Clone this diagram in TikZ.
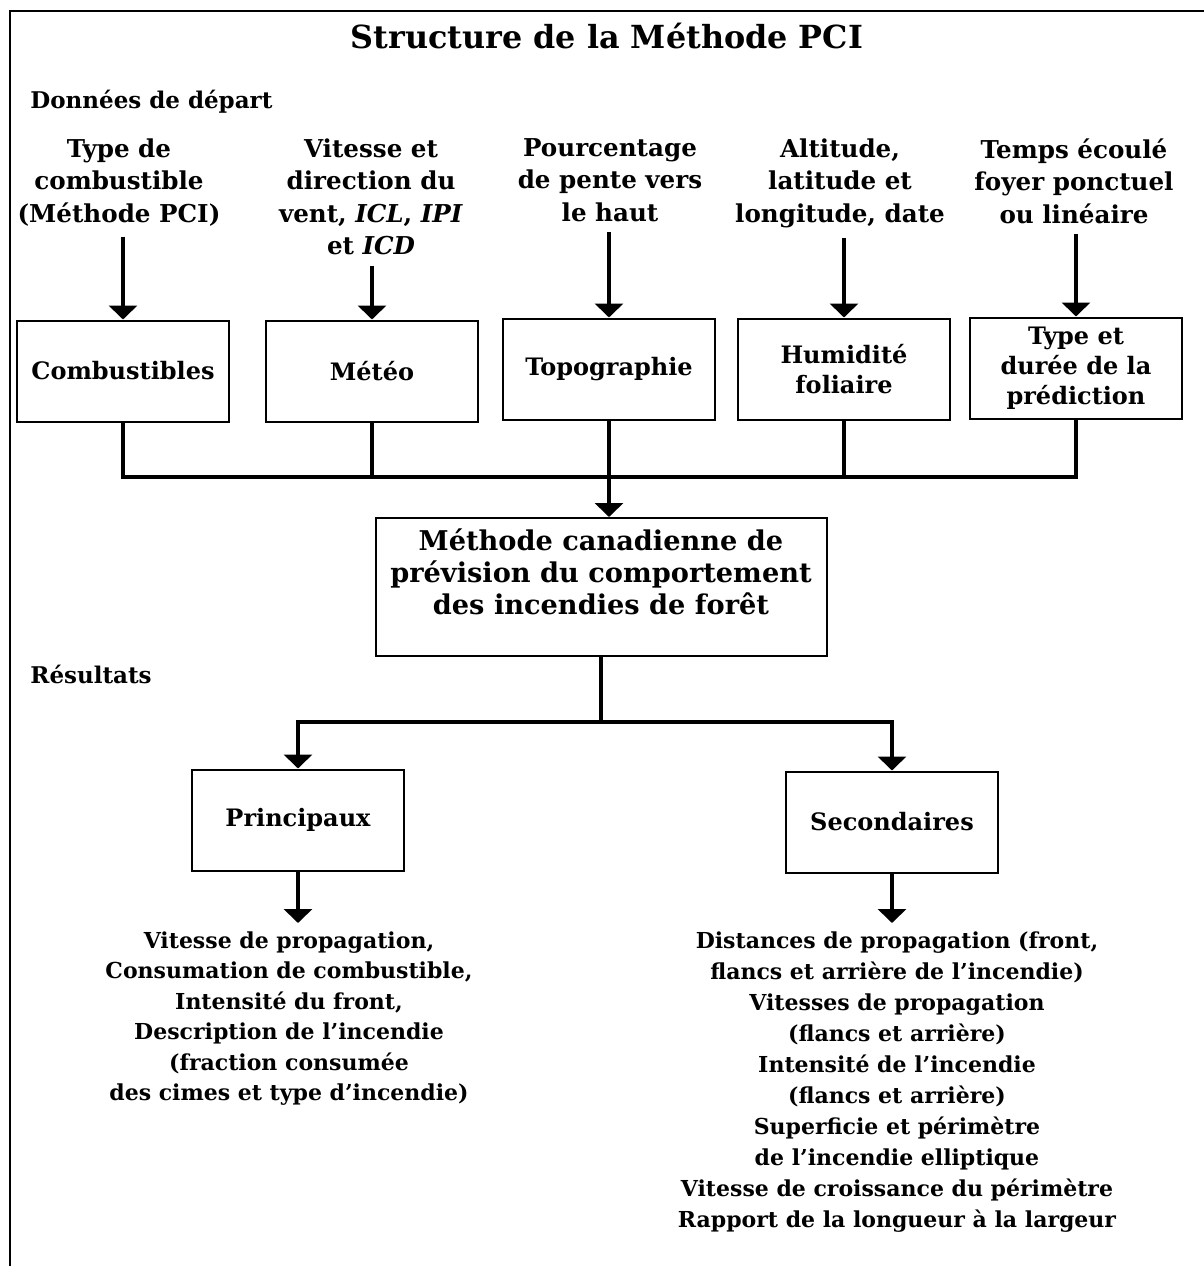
\documentclass[tikz,border=0pt]{standalone}
\usepackage{fontspec}
\setmainfont{DejaVu Serif}
\usetikzlibrary{arrows.meta}
\begin{document}
\begin{tikzpicture}[x=0.5pt,y=-0.5pt,
  titletext/.style={font=\fontsize{15.9}{20}\selectfont\bfseries, inner sep=0pt},
  headtext/.style={font=\fontsize{11.5}{14}\selectfont\bfseries, inner sep=0pt},
  intext/.style={font=\fontsize{12.3}{16.3}\selectfont\bfseries, align=center, inner sep=0pt},
  outtext/.style={font=\fontsize{11}{15.25}\selectfont\bfseries, align=center, inner sep=0pt},
  stagebox/.style={draw, line width=1pt, minimum width=106pt, minimum height=50.5pt,
    align=center, inner sep=2pt, font=\fontsize{12}{15}\selectfont\bfseries},
  mainbox/.style={draw, line width=1pt, minimum width=225.5pt, minimum height=69pt, inner sep=0pt},
  maintext/.style={font=\fontsize{13.6}{16.2}\selectfont\bfseries, align=center, inner sep=0pt},
  conn/.style={line width=2pt},
  arr/.style={conn, -{Triangle[width=14pt,length=7pt]}},
]
\useasboundingbox (0,0) rectangle (1204,1266);
% page frame (open towards the right and bottom)
\draw[line width=1.2pt] (10,1266) -- (10,11) -- (1204,11);

% headings
\node[titletext, anchor=base] (title) at (607,48) {Structure de la Méthode PCI};
\node[headtext, anchor=base west] (inputs) at (30,108) {Données de départ};
\node[headtext, anchor=base west] (results) at (30,683) {Résultats};

% input data
\node[intext, anchor=north] (t1) at (119,138) {Type de\\combustible\\(Méthode PCI)};
\node[intext, anchor=north] (t2) at (371,138) {Vitesse et\\direction du\\vent, \textit{ICL}, \textit{IPI}\\et \textit{ICD}};
\node[intext, anchor=north] (t3) at (610,138) {Pourcentage\\de pente vers\\le haut};
\node[intext, anchor=north] (t4) at (840,138) {Altitude,\\latitude et\\longitude, date};
\node[intext, anchor=north] (t5) at (1074,138) {Temps écoulé\\foyer ponctuel\\ou linéaire};

% input boxes
\node[stagebox] (b1) at (123,371) {Combustibles};
\node[stagebox] (b2) at (372,371) {Météo};
\node[stagebox] (b3) at (609,369) {Topographie};
\node[stagebox] (b4) at (844,369) {Humidité\\foliaire};
\node[stagebox] (b5) at (1076,368) {Type et\\durée de la\\prédiction};

\foreach \i in {1,...,5}
  \draw[arr] ([yshift=-5pt]t\i.south -| b\i.north) -- (b\i.north);

% central method box
\node[mainbox] (cffbps) at (601,587) {};
\node[maintext, anchor=north] (cffbpstext) at (601,528)
  {Méthode canadienne de\\prévision du comportement\\des incendies de forêt};

% collecting bus
\coordinate (bus) at (0,477);
\draw[conn] (b1.south) -- (b1.south |- bus) -- (b5.south |- bus) -- (b5.south);
\foreach \i in {2,3,4}
  \draw[conn] (b\i.south) -- (b\i.south |- bus);
\draw[arr] (b3.south |- bus) -- (b3.south |- cffbps.north);

% results
\node[stagebox] (prin) at (298,820) {Principaux};
\node[stagebox] (sec) at (892,822) {Secondaires};
\coordinate (split) at (0,722);
\draw[conn] (cffbps.south) -- (cffbps.south |- split);
\draw[arr] (cffbps.south |- split) -| (prin.north);
\draw[arr] (cffbps.south |- split) -| (sec.north);

\node[outtext, anchor=north] (outL) at (289,931)
  {Vitesse de propagation,\\Consumation de combustible,\\Intensité du front,\\Description de l’incendie\\(fraction consumée\\des cimes et type d’incendie)};
\node[outtext, anchor=north, font=\fontsize{11}{15.5}\selectfont\bfseries] (outR) at (897,931)
  {Distances de propagation (front,\\flancs et arrière de l’incendie)\\Vitesses de propagation\\(flancs et arrière)\\Intensité de l’incendie\\(flancs et arrière)\\Superficie et périmètre\\de l’incendie elliptique\\Vitesse de croissance du périmètre\\Rapport de la longueur à la largeur};

\draw[arr] (prin.south) -- ([yshift=4pt]outL.north -| prin.south);
\draw[arr] (sec.south) -- ([yshift=4pt]outR.north -| sec.south);
\end{tikzpicture}
\end{document}
